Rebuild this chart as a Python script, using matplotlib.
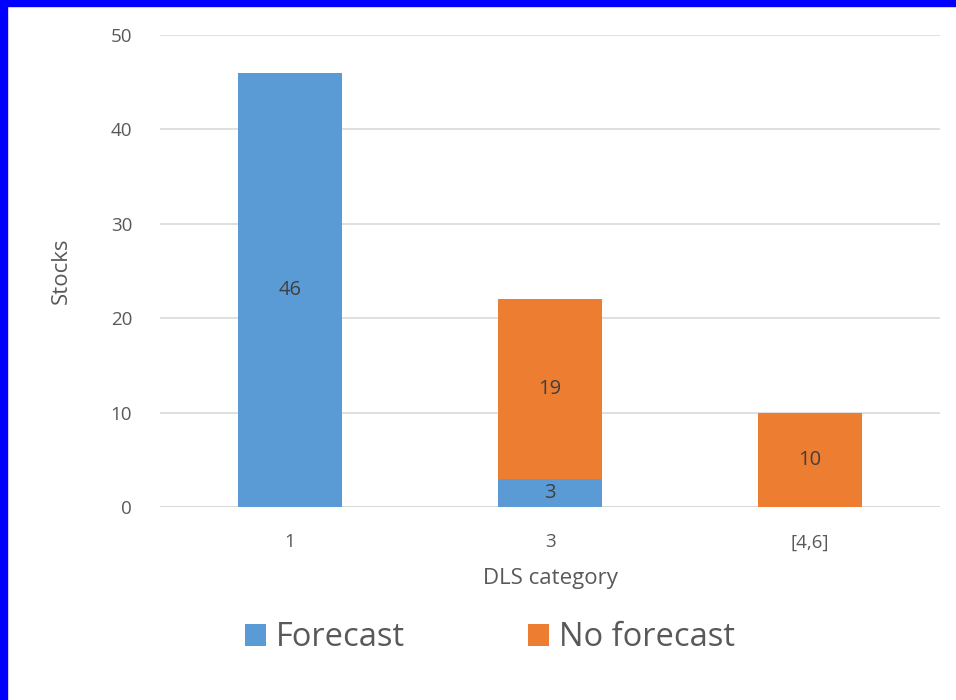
import matplotlib
matplotlib.use("Agg")
import matplotlib.pyplot as plt
from matplotlib.patches import Rectangle

categories = ["1", "3", "[4,6]"]
forecast = [46, 3, 0]
no_forecast = [0, 19, 10]
series_names = ["Forecast", "No forecast"]
y_ticks = [0, 10, 20, 30, 40, 50]

blue = "#5b9bd5"
orange = "#ed7d31"
text_col = "#595959"

plt.rcParams["font.family"] = ["Open Sans", "DejaVu Sans"]

fig = plt.figure(figsize=(9.56, 7.0), dpi=100)
ax = fig.add_axes([160 / 956, 1 - 507 / 700, 780 / 956, 472 / 700])

x = list(range(len(categories)))
w = 0.4
b1 = ax.bar(x, forecast, width=w, color=blue, zorder=3, label=series_names[0])
b2 = ax.bar(x, no_forecast, width=w, bottom=forecast, color=orange, zorder=3,
            label=series_names[1])

for bars, vals, bottoms in ((b1, forecast, [0] * 3), (b2, no_forecast, forecast)):
    for rect, v, b in zip(bars, vals, bottoms):
        if v:
            ax.text(rect.get_x() + rect.get_width() / 2, b + v / 2, str(v),
                    ha="center", va="center", fontsize=14.5, color="#404040", zorder=4)

ax.set_xlim(-0.5, 2.5)
ax.set_ylim(0, 50)
ax.set_yticks(y_ticks)
ax.set_xticks(x)
ax.set_xticklabels(categories)
ax.tick_params(axis="both", length=0, labelsize=13.5, labelcolor=text_col)
ax.tick_params(axis="x", pad=19)
ax.tick_params(axis="y", pad=20)
ax.yaxis.grid(True, color="#d9d9d9", linewidth=1.2, zorder=0)
for s in ax.spines.values():
    s.set_visible(False)
ax.axhline(0, color="#d9d9d9", linewidth=1.2, zorder=1)

ax.set_xlabel("DLS category", fontsize=16, color=text_col, labelpad=12)
ax.set_ylabel("Stocks", fontsize=16, color=text_col, labelpad=28)

fig.legend(handles=[b1, b2], labels=series_names, loc="center",
           bbox_to_anchor=(490 / 956, 1 - 638 / 700), ncol=2, frameon=False,
           fontsize=23.5, labelcolor=text_col, handlelength=0.65, handleheight=0.65,
           handletextpad=0.3, columnspacing=3.75)

# blue frame along the top and left edges
fig.patches.append(Rectangle((0, 1 - 6 / 700), 1, 6 / 700, transform=fig.transFigure,
                             color="#0000ff", zorder=10))
fig.patches.append(Rectangle((0, 0), 7 / 956, 1, transform=fig.transFigure,
                             color="#0000ff", zorder=10))

fig.savefig("out.png", dpi=100)
